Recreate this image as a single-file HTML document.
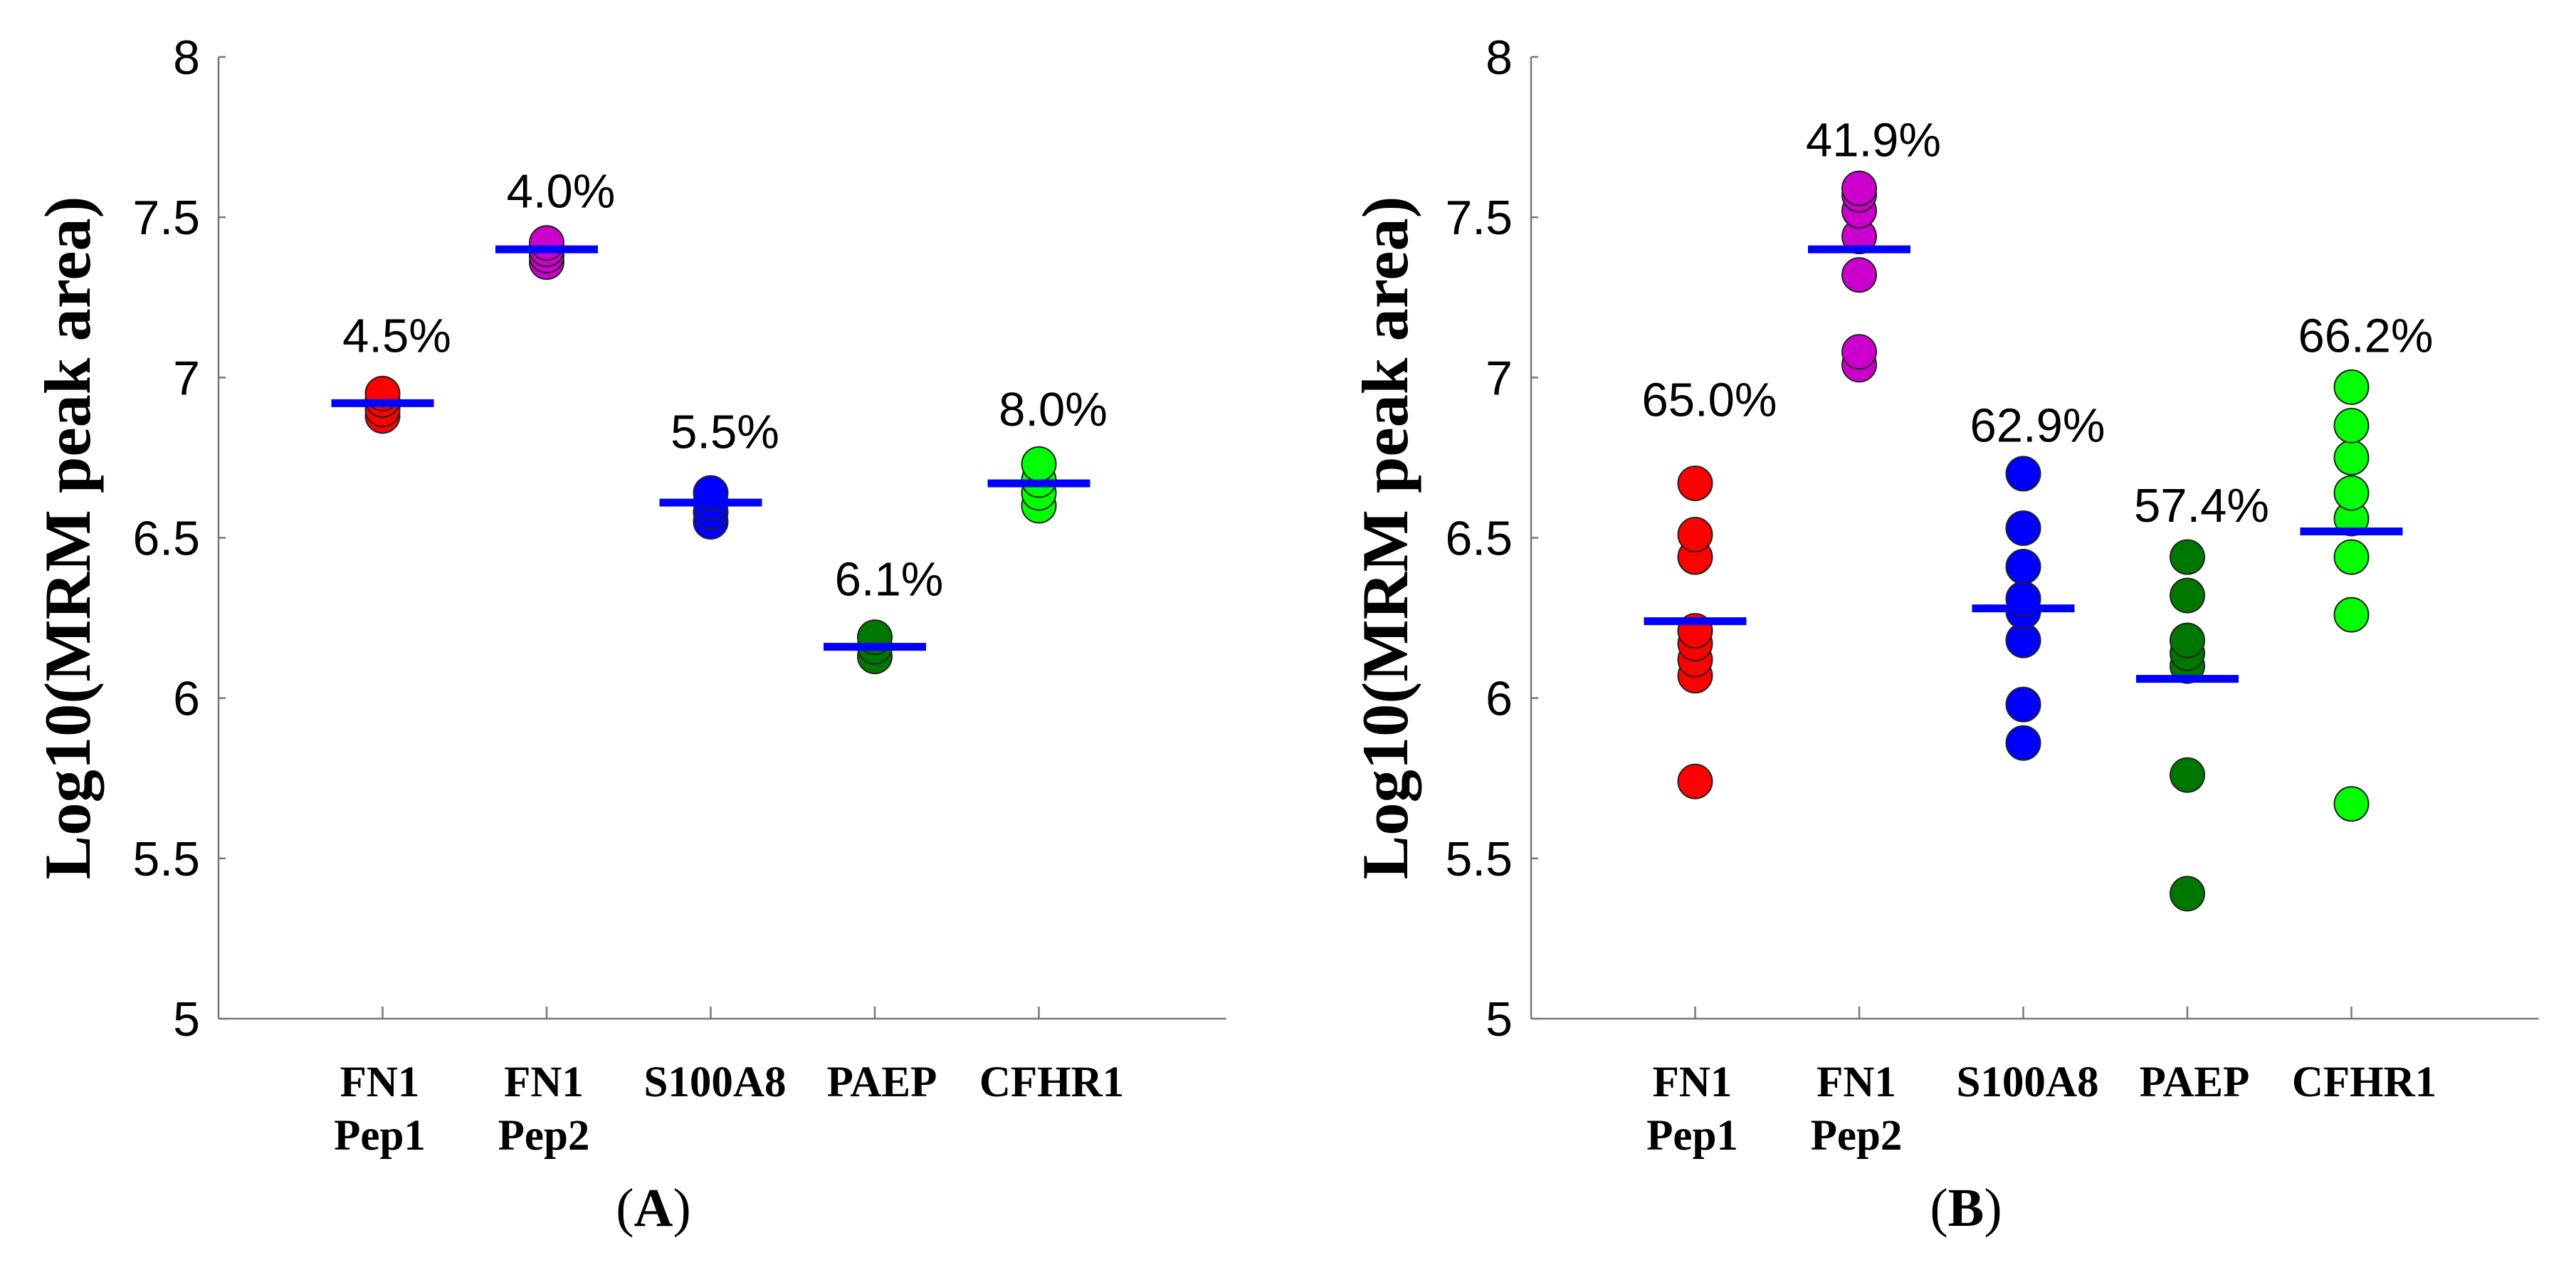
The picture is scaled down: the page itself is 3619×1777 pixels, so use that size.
<!DOCTYPE html>
<html><head><meta charset="utf-8">
<style>
html,body{margin:0;padding:0;background:#fff;}
svg{display:block;}
</style></head>
<body>
<svg id="chart" width="3619" height="1777" viewBox="0 0 3619 1777" xmlns="http://www.w3.org/2000/svg"></svg>
<script>
const categories = ["FN1|Pep1","FN1|Pep2","S100A8","PAEP","CFHR1"];
const colors = ["#ff0000","#cc00cc","#0000ff","#007700","#00ff00"];
const yTicks = [5,5.5,6,6.5,7,7.5,8];
const yTickLabels = ["5","5.5","6","6.5","7","7.5","8"];

const valuesA = [
  [6.95,6.93,6.90,6.88],
  [7.42,7.40,7.38,7.36],
  [6.64,6.61,6.58,6.55],
  [6.19,6.16,6.13],
  [6.73,6.68,6.64,6.60]
];
const mediansA = [6.92,7.40,6.61,6.16,6.67];
const cvLabelsA = ["4.5%","4.0%","5.5%","6.1%","8.0%"];
const cvLabelYA = [7.08,7.53,6.78,6.32,6.85];

const valuesB = [
  [6.67,6.51,6.44,6.21,6.17,6.12,6.07,5.74],
  [7.59,7.57,7.52,7.44,7.32,7.08,7.04],
  [6.70,6.53,6.41,6.31,6.27,6.18,5.98,5.86],
  [6.44,6.32,6.18,6.14,6.10,5.76,5.39],
  [6.97,6.85,6.75,6.64,6.56,6.44,6.26,5.67]
];
const mediansB = [6.24,7.40,6.28,6.06,6.52];
const cvLabelsB = ["65.0%","41.9%","62.9%","57.4%","66.2%"];
const cvLabelYB = [6.88,7.69,6.80,6.55,7.08];

const NS = "http://www.w3.org/2000/svg";
const svg = document.getElementById("chart");
function mk(tag, attrs, parent){
  const e = document.createElementNS(NS, tag);
  for (const k in attrs) e.setAttribute(k, attrs[k]);
  (parent||svg).appendChild(e);
  return e;
}

function panel(id, ox, yTitleX, values, medians, cvLabels, cvY, letter){
  const g = mk("g", {});
  
  
  const top = 80, bot = 1431, step = 230.5;
  const right = ox + 5*step + 263;
  const yS = v => bot - (v-5)/(8-5)*(bot-top);
  const xS = i => ox + (i+1)*step;

  const yAxis = mk("line", {x1:ox,y1:top,x2:ox,y2:bot,stroke:"#777","stroke-width":2.5}, g);
  
  
  const xAxis = mk("line", {x1:ox,y1:bot,x2:right,y2:bot,stroke:"#777","stroke-width":2.5}, g);
  
  

  yTicks.forEach((t,i)=>{
    const tk = mk("line",{x1:ox,y1:yS(t),x2:ox+10,y2:yS(t),stroke:"#777","stroke-width":2.5},g);
    
    
    const lb = mk("text",{x:ox-26,y:yS(t)+24,"text-anchor":"end","font-family":"Liberation Sans, sans-serif","font-size":68,fill:"#000"},g);
    lb.textContent = yTickLabels[i];
    
    
  });

  const title = mk("text",{x:0,y:0,transform:`translate(${yTitleX},${(top+bot)/2}) rotate(-90)`,"text-anchor":"middle","font-family":"Liberation Serif, serif","font-weight":"bold","font-size":92,textLength:960,lengthAdjust:"spacingAndGlyphs",fill:"#000"},g);
  title.textContent = "Log10(MRM peak area)";
  
  

  categories.forEach((c,i)=>{
    const x = xS(i);
    const tk = mk("line",{x1:x,y1:bot,x2:x,y2:bot-17,stroke:"#777","stroke-width":2.5},g);
    
    
    const parts = c.split("|");
    parts.forEach((p,j)=>{
      const t = mk("text",{x:x+(j===0&&parts.length===1? (i===4?18:(i===2?6:10)) : -4),y:1540+j*75,"text-anchor":"middle","font-family":"Liberation Serif, serif","font-weight":"bold","font-size":61,fill:"#000"},g);
      t.textContent = p;
      
      
    });

    values[i].slice().reverse().forEach(v=>{
      const p = mk("circle",{cx:x,cy:yS(v),r:24,fill:colors[i],stroke:"#222","stroke-width":2},g);
      
      
    });
    const m = mk("line",{x1:x-72,y1:yS(medians[i]),x2:x+72,y2:yS(medians[i]),stroke:"#0000ff","stroke-width":11},g);
    
    
    const cv = mk("text",{x:x+20,y:yS(cvY[i]),"text-anchor":"middle","font-family":"Liberation Sans, sans-serif","font-size":67,fill:"#000"},g);
    cv.textContent = cvLabels[i];
    
    
  });

  const pl = mk("text",{x:ox+611,y:1722,"text-anchor":"middle","font-family":"Liberation Serif, serif","font-size":76,fill:"#000"},g);
  pl.innerHTML = `(<tspan font-weight="bold">${letter}</tspan>)`;
  
  
}

panel("a", 307, 126, valuesA, mediansA, cvLabelsA, cvLabelYA, "A");
panel("b", 2151, 1977, valuesB, mediansB, cvLabelsB, cvLabelYB, "B");
</script>
</body></html>
